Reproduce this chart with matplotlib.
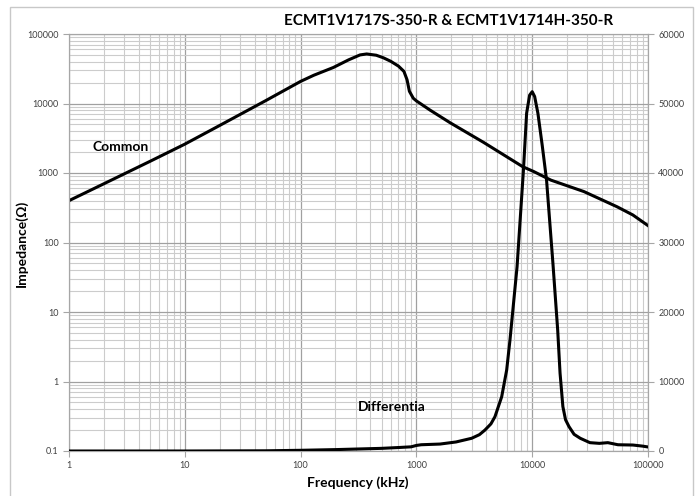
import numpy as np
import matplotlib
matplotlib.use("Agg")
import matplotlib.pyplot as plt
from matplotlib.patches import Rectangle
from matplotlib.ticker import LogLocator, FixedLocator, NullFormatter

# ---- data ----
common_freq = [1, 2, 5, 10, 20, 50, 100, 130, 192, 260, 326, 372, 450, 518, 600, 700,
               780, 830, 870, 940, 1000, 1310, 1950, 3800, 8300, 10300, 14500, 28000,
               54000, 74000, 100000]
common_z = [400, 700, 1470, 2600, 4830, 11000, 20800, 25500, 33000, 42500, 50000, 51600,
            49500, 45500, 40500, 34500, 29000, 22000, 15000, 11900, 10900, 8050, 5300,
            2760, 1230, 1050, 790, 540, 327, 249, 175]

diff_freq = [1, 10, 50, 100, 200, 300, 500, 700, 900, 1000, 1100, 1600, 2200, 3000,
             3500, 3900, 4400, 4770, 5450, 6020, 6430, 7400, 8400, 8950, 9500, 10000,
             10500, 11200, 12200, 13300, 15100, 16600, 17400, 18400, 19400, 20800, 23000,
             26000, 31500, 38000, 45000, 55000, 74000, 90000, 100000]
diff_z = [0, 0, 30, 100, 200, 280, 380, 500, 600, 800, 900, 1000, 1300, 1830,
          2350, 3000, 3900, 4940, 7800, 11650, 16000, 26500, 40400, 48600, 51200, 51700,
          51000, 48600, 44000, 39000, 27000, 17400, 11200, 6400, 4500, 3500, 2400,
          1830, 1200, 1100, 1200, 900, 860, 700, 580]

x_ticks = [1, 10, 100, 1000, 10000, 100000]
x_ticklabels = ["1", "10", "100", "1000", "10000", "100000"]
y_ticks = [0.1, 1, 10, 100, 1000, 10000, 100000]
y_ticklabels = ["0.1", "1", "10", "100", "1000", "10000", "100000"]
y2_ticks = [0, 10000, 20000, 30000, 40000, 50000, 60000]
y2_ticklabels = ["0", "10000", "20000", "30000", "40000", "50000", "60000"]

title = "ECMT1V1717S-350-R & ECMT1V1714H-350-R"

# ---- figure ----
plt.rcParams['font.family'] = ['Lato', 'DejaVu Sans']
fig = plt.figure(figsize=(6.97, 4.96), dpi=100)
fig.patch.set_facecolor("white")
fig.add_artist(Rectangle((10 / 697, -0.01), (693 - 10) / 697, 1 - 7 / 496 + 0.01,
                         transform=fig.transFigure, fill=False, edgecolor="#c8c8c8", lw=1))

ax = fig.add_axes([69 / 697, 1 - 451 / 496, (648 - 69) / 697, (451 - 34) / 496])
ax.set_xscale("log")
ax.set_yscale("log")
ax.set_xlim(1, 100000)
ax.set_ylim(0.1, 100000)

ax.xaxis.set_major_locator(FixedLocator(x_ticks))
ax.set_xticklabels(x_ticklabels)
ax.yaxis.set_major_locator(FixedLocator(y_ticks))
ax.set_yticklabels(y_ticklabels)
ax.xaxis.set_minor_locator(LogLocator(base=10, subs=np.arange(2, 10)))
ax.yaxis.set_minor_locator(LogLocator(base=10, subs=np.arange(2, 10)))
ax.xaxis.set_minor_formatter(NullFormatter())
ax.yaxis.set_minor_formatter(NullFormatter())

ax.grid(which="major", color="#a0a0a0", lw=0.9)
ax.grid(which="minor", color="#cccccc", lw=0.8)
ax.set_axisbelow(True)
ax.tick_params(which="minor", length=0)
ax.tick_params(which="major", length=4, color="#a6a6a6", labelsize=6.5, labelcolor="#404040")
for s in ax.spines.values():
    s.set_color("#a6a6a6")

ax.plot(common_freq, common_z, color="black", lw=2.2, zorder=3,
        solid_joinstyle="round")

ax2 = ax.twinx()
ax2.set_ylim(0, 60000)
ax2.yaxis.set_major_locator(FixedLocator(y2_ticks))
ax2.set_yticklabels(y2_ticklabels)
ax2.tick_params(length=4, color="#a6a6a6", labelsize=6.5, labelcolor="#404040")
for s in ax2.spines.values():
    s.set_color("#a6a6a6")
ax2.plot(diff_freq, diff_z, color="black", lw=2.2, zorder=3, solid_joinstyle="round")

ax.text(1.58, 2370, "Common", fontsize=10, fontweight="bold", va="center", ha="left")
ax.text(313, 0.43, "Differentia", fontsize=10, fontweight="bold", va="center", ha="left")

fig.text(448.5 / 697, 1 - 21 / 496, title, fontsize=11, fontweight="bold",
         ha="center", va="center")
fig.text(358 / 697, 1 - 483 / 496, "Frequency (kHz)", fontsize=10, fontweight="bold",
         ha="center", va="center")
fig.text(22 / 697, 1 - 243 / 496, "Impedance(Ω)", fontsize=10, fontweight="bold",
         ha="center", va="center", rotation=90)

fig.savefig("out.png", dpi=100)
